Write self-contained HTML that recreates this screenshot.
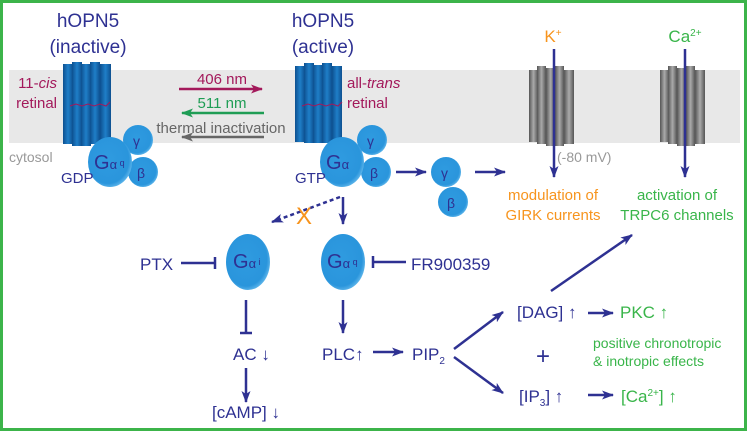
<!DOCTYPE html>
<html><head><meta charset="utf-8"><style>body{margin:0;background:#fff}svg{display:block;font-family:"Liberation Sans",sans-serif}</style></head><body>
<svg width="749" height="432" viewBox="0 0 749 432" xmlns="http://www.w3.org/2000/svg">
<defs>
<marker id="ab" markerWidth="12" markerHeight="9" refX="11" refY="4.5" orient="auto" markerUnits="userSpaceOnUse"><path d="M0,0 L12,4.5 L0,9 L3,4.5z" fill="#2e3192"/></marker>
<marker id="am" markerWidth="12" markerHeight="9" refX="11" refY="4.5" orient="auto" markerUnits="userSpaceOnUse"><path d="M0,0 L12,4.5 L0,9 L3,4.5z" fill="#a3195b"/></marker>
<marker id="ag" markerWidth="12" markerHeight="9" refX="11" refY="4.5" orient="auto" markerUnits="userSpaceOnUse"><path d="M0,0 L12,4.5 L0,9 L3,4.5z" fill="#1f9d55"/></marker>
<marker id="ay" markerWidth="12" markerHeight="9" refX="11" refY="4.5" orient="auto" markerUnits="userSpaceOnUse"><path d="M0,0 L12,4.5 L0,9 L3,4.5z" fill="#666"/></marker>
<radialGradient id="gb" cx="0.45" cy="0.45" r="0.6"><stop offset="0" stop-color="#2f9be0"/><stop offset="0.8" stop-color="#2a95dc"/><stop offset="1" stop-color="#6fc0ef"/></radialGradient>
<linearGradient id="rc" x1="0" x2="1"><stop offset="0" stop-color="#0d4f8f"/><stop offset="0.5" stop-color="#1f7fc8"/><stop offset="1" stop-color="#0d4f8f"/></linearGradient>
<linearGradient id="gc" x1="0" x2="1"><stop offset="0" stop-color="#555"/><stop offset="0.5" stop-color="#aaa"/><stop offset="1" stop-color="#555"/></linearGradient>
</defs>
<rect x="1.5" y="1.5" width="744" height="428" fill="#fff" stroke="#3cb44a" stroke-width="3"/>
<rect x="9" y="70" width="731" height="73" fill="#e8e8e8"/>
<g font-size="19" fill="#2e3192" text-anchor="middle">
<text x="88" y="27">hOPN5</text><text x="88" y="53">(inactive)</text>
<text x="323" y="27">hOPN5</text><text x="323" y="53">(active)</text></g>
<g fill="url(#rc)">
<rect x="63" y="64" width="10" height="80"/><rect x="72" y="62" width="10" height="84"/><rect x="81" y="64" width="10" height="82"/><rect x="90" y="62" width="10" height="82"/><rect x="100" y="64" width="11" height="80"/>
<rect x="295" y="66" width="10" height="76"/><rect x="304" y="63" width="10" height="80"/><rect x="313" y="65" width="10" height="78"/><rect x="322" y="63" width="10" height="80"/><rect x="332" y="66" width="10" height="76"/></g>
<path d="M70,106 l6,-2 l6,2 l6,-2 l6,2 l6,-2 l6,2 l4,-4" stroke="#a3195b" fill="none"/>
<path d="M302,106 l6,-2 l6,2 l6,-2 l6,2 l6,-2 l6,2 l4,-4" stroke="#a3195b" fill="none"/>
<g font-size="15" fill="#a3195b">
<text x="57" y="88" text-anchor="end">11-<tspan font-style="italic">cis</tspan></text>
<text x="57" y="108" text-anchor="end">retinal</text>
<text x="347" y="88">all-<tspan font-style="italic">trans</tspan></text>
<text x="347" y="108">retinal</text>
<text x="222" y="84" text-anchor="middle">406 nm</text></g>
<text x="222" y="108" font-size="15" fill="#1f9d55" text-anchor="middle">511 nm</text>
<text x="221" y="133" font-size="15" fill="#666" text-anchor="middle">thermal inactivation</text>
<line x1="179" y1="89" x2="262" y2="89" stroke="#a3195b" stroke-width="2.5" marker-end="url(#am)"/>
<line x1="264" y1="113" x2="182" y2="113" stroke="#1f9d55" stroke-width="2.5" marker-end="url(#ag)"/>
<line x1="264" y1="137" x2="182" y2="137" stroke="#666" stroke-width="2.5" marker-end="url(#ay)"/>
<text x="9" y="162" font-size="14" fill="#999">cytosol</text>
<g fill="url(#gb)">
<circle cx="138" cy="140" r="15"/><circle cx="143" cy="172" r="15"/><ellipse cx="110" cy="162" rx="22" ry="25"/>
<circle cx="372" cy="140" r="15"/><circle cx="376" cy="172" r="15"/><ellipse cx="342" cy="162" rx="22" ry="25"/>
<circle cx="446" cy="172" r="15"/><circle cx="453" cy="202" r="15"/>
<ellipse cx="248" cy="262" rx="22" ry="28"/><ellipse cx="343" cy="262" rx="22" ry="28"/></g>
<g fill="#2e3192" font-size="15">
<text x="94" y="169" font-size="20">G<tspan font-size="13">α</tspan><tspan font-size="9" dy="-3"> q</tspan></text>
<text x="133" y="146" font-size="14">γ</text><text x="137" y="178" font-size="14">β</text>
<text x="326" y="169" font-size="20">G<tspan font-size="13">α</tspan></text>
<text x="367" y="146" font-size="14">γ</text><text x="370" y="178" font-size="14">β</text>
<text x="441" y="178" font-size="14">γ</text><text x="447" y="208" font-size="14">β</text>
<text x="233" y="268" font-size="20">G<tspan font-size="13">α</tspan><tspan font-size="9" dy="-3"> i</tspan></text>
<text x="327" y="268" font-size="20">G<tspan font-size="13">α</tspan><tspan font-size="9" dy="-3"> q</tspan></text>
<text x="61" y="183">GDP</text><text x="295" y="183">GTP</text></g>
<g fill="url(#gc)">
<rect x="529" y="70" width="9" height="72"/><rect x="537" y="66" width="9" height="78"/><rect x="546" y="68" width="9" height="78"/><rect x="555" y="66" width="9" height="80"/><rect x="564" y="70" width="10" height="74"/>
<rect x="660" y="70" width="9" height="72"/><rect x="668" y="66" width="9" height="78"/><rect x="677" y="68" width="9" height="78"/><rect x="686" y="66" width="9" height="80"/><rect x="695" y="70" width="10" height="74"/></g>
<text x="553" y="42" font-size="17" fill="#f7941d" text-anchor="middle">K<tspan font-size="10" dy="-6">+</tspan></text>
<text x="685" y="42" font-size="17" fill="#39b54a" text-anchor="middle">Ca<tspan font-size="10" dy="-6">2+</tspan></text>
<text x="557" y="162" font-size="14" fill="#999">(-80 mV)</text>
<g stroke="#2e3192" stroke-width="2.5" fill="none">
<line x1="554" y1="49" x2="554" y2="177" marker-end="url(#ab)"/>
<line x1="685" y1="49" x2="685" y2="177" marker-end="url(#ab)"/>
<line x1="396" y1="172" x2="426" y2="172" marker-end="url(#ab)"/>
<line x1="475" y1="172" x2="505" y2="172" marker-end="url(#ab)"/>
<line x1="340" y1="197" x2="272" y2="222" stroke-dasharray="4,3" marker-end="url(#ab)"/>
<line x1="343" y1="197" x2="343" y2="224" marker-end="url(#ab)"/>
<line x1="181" y1="263" x2="215" y2="263"/><line x1="215" y1="257" x2="215" y2="269"/>
<line x1="406" y1="262" x2="373" y2="262"/><line x1="373" y1="256" x2="373" y2="268"/>
<line x1="246" y1="300" x2="246" y2="333"/><line x1="240" y1="333" x2="252" y2="333"/>
<line x1="343" y1="300" x2="343" y2="333" marker-end="url(#ab)"/>
<line x1="246" y1="368" x2="246" y2="402" marker-end="url(#ab)"/>
<line x1="373" y1="352" x2="403" y2="352" marker-end="url(#ab)"/>
<line x1="454" y1="349" x2="503" y2="312" marker-end="url(#ab)"/>
<line x1="454" y1="357" x2="503" y2="393" marker-end="url(#ab)"/>
<line x1="551" y1="291" x2="632" y2="235" marker-end="url(#ab)"/>
<line x1="588" y1="313" x2="613" y2="313" marker-end="url(#ab)"/>
<line x1="588" y1="395" x2="613" y2="395" marker-end="url(#ab)"/>
</g>
<text x="304" y="224" font-size="24" fill="#f7941d" text-anchor="middle">X</text>
<g font-size="15" text-anchor="middle">
<text x="553" y="200" fill="#f7941d">modulation of</text><text x="553" y="220" fill="#f7941d">GIRK currents</text>
<text x="677" y="200" fill="#39b54a">activation of</text><text x="677" y="220" fill="#39b54a">TRPC6 channels</text></g>
<g font-size="17" fill="#2e3192">
<text x="140" y="270">PTX</text><text x="411" y="270">FR900359</text>
<text x="233" y="360">AC ↓</text><text x="322" y="360">PLC↑</text>
<text x="412" y="360">PIP<tspan font-size="10" dy="4">2</tspan></text>
<text x="212" y="418">[cAMP] ↓</text>
<text x="517" y="318">[DAG] ↑</text>
<text x="519" y="402">[IP<tspan font-size="10" dy="4">3</tspan><tspan dy="-4">] ↑</tspan></text>
<text x="536" y="364" font-size="24">+</text></g>
<g fill="#39b54a">
<text x="620" y="318" font-size="17">PKC ↑</text>
<text x="621" y="402" font-size="17">[Ca<tspan font-size="10" dy="-6">2+</tspan><tspan dy="6">] ↑</tspan></text>
<text x="593" y="348" font-size="14">positive chronotropic</text>
<text x="593" y="366" font-size="14">&amp; inotropic effects</text></g>
</svg>
</body></html>
